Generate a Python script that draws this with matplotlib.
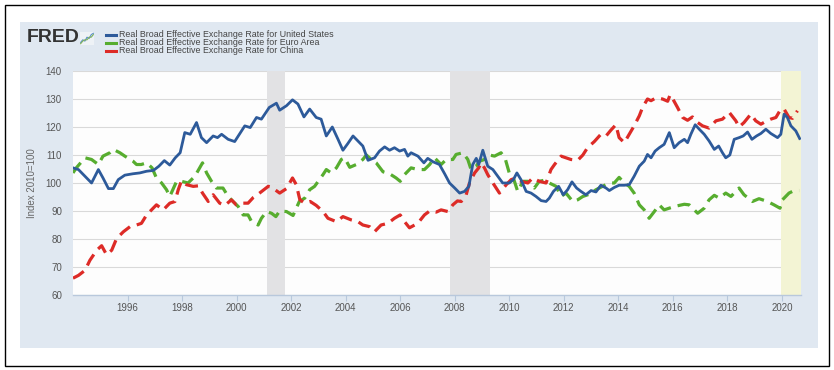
import matplotlib
matplotlib.use("Agg")
import matplotlib.pyplot as plt
from matplotlib.patches import Rectangle
import numpy as np

# ---------------- data (decimal years, index 2010=100) ----------------
us_t = [1994.0, 1994.2, 1994.44, 1994.68, 1994.93, 1995.1, 1995.3, 1995.48, 1995.66, 1995.9,
        1996.2, 1996.45, 1996.7, 1996.95, 1997.15, 1997.35, 1997.55, 1997.75, 1997.93, 1998.1,
        1998.3, 1998.53, 1998.71, 1998.9, 1999.14, 1999.3, 1999.45, 1999.69, 1999.93, 2000.1,
        2000.3, 2000.5, 2000.73, 2000.91, 2001.2, 2001.46, 2001.58, 2001.83, 2002.05, 2002.25,
        2002.47, 2002.68, 2002.92, 2003.1, 2003.29, 2003.51, 2003.72, 2003.9, 2004.08, 2004.27,
        2004.45, 2004.63, 2004.82, 2005.06, 2005.24, 2005.43, 2005.61, 2005.79, 2005.98, 2006.16,
        2006.28, 2006.4, 2006.65, 2006.87, 2007.01, 2007.2, 2007.44, 2007.63, 2007.81, 2008.0,
        2008.18, 2008.36, 2008.52, 2008.66, 2008.79, 2008.88, 2009.03, 2009.21, 2009.4, 2009.58,
        2009.76, 2010.0, 2010.15, 2010.28, 2010.43, 2010.62, 2010.8, 2010.98, 2011.17, 2011.35,
        2011.47, 2011.62, 2011.81, 2011.98, 2012.14, 2012.3, 2012.47, 2012.63, 2012.81, 2013.0,
        2013.18, 2013.36, 2013.55, 2013.67, 2013.85, 2014.03, 2014.22, 2014.4, 2014.58, 2014.77,
        2014.95, 2015.07, 2015.2, 2015.35, 2015.5, 2015.68, 2015.87, 2016.05, 2016.23, 2016.42,
        2016.54, 2016.66, 2016.82, 2016.97, 2017.15, 2017.33, 2017.52, 2017.68, 2017.82, 2017.94,
        2018.09, 2018.25, 2018.43, 2018.58, 2018.74, 2018.9, 2019.07, 2019.23, 2019.41, 2019.59,
        2019.84, 2019.96, 2020.08, 2020.2, 2020.33, 2020.51, 2020.65]
us_v = [105.4, 104.8, 102.4, 100.0, 104.8, 101.8, 98.0, 98.0, 101.2, 102.8,
        103.3, 103.6, 104.2, 104.5, 106.0, 108.0, 106.4, 109.0, 110.8, 118.0,
        117.4, 121.6, 116.2, 114.4, 116.8, 116.2, 117.4, 115.6, 114.8, 117.4,
        120.4, 119.8, 123.4, 122.8, 127.0, 128.5, 126.0, 127.6, 129.7, 128.2,
        123.6, 126.4, 123.4, 122.8, 116.8, 120.0, 115.6, 111.7, 114.1, 116.8,
        115.0, 113.2, 108.1, 109.0, 111.4, 112.9, 111.7, 112.6, 111.4, 112.0,
        109.6, 110.8, 109.6, 107.2, 108.8, 107.6, 106.6, 103.3, 100.0, 98.2,
        96.4, 97.0, 98.8, 106.6, 108.8, 106.6, 111.7, 106.0, 104.8, 102.4,
        100.0, 100.0, 101.2, 103.6, 101.2, 97.0, 96.4, 95.2, 93.7, 93.4,
        94.6, 97.0, 98.8, 95.8, 97.6, 100.4, 98.2, 97.0, 95.8, 97.3,
        96.8, 99.2, 98.2, 97.3, 98.4, 99.2, 99.2, 99.4, 102.4, 106.0,
        107.8, 110.2, 109.0, 111.4, 112.6, 113.8, 118.0, 112.6, 114.4, 115.6,
        114.4, 117.4, 120.8, 119.2, 117.4, 115.0, 112.0, 113.2, 110.8, 109.0,
        110.0, 115.6, 116.2, 116.8, 118.2, 115.6, 116.8, 117.7, 119.2, 117.7,
        116.2, 117.4, 124.6, 123.4, 120.4, 118.6, 115.9]

eu_t = [1994.0, 1994.12, 1994.44, 1994.68, 1994.93, 1995.1, 1995.35, 1995.48, 1995.72, 1995.9,
        1996.2, 1996.33, 1996.5, 1996.7, 1996.9, 1997.06, 1997.25, 1997.43, 1997.55, 1997.8,
        1997.98, 1998.22, 1998.47, 1998.75, 1998.9, 1999.08, 1999.26, 1999.5, 1999.69, 1999.87,
        2000.06, 2000.24, 2000.42, 2000.55, 2000.79, 2000.91, 2001.1, 2001.28, 2001.44, 2001.58,
        2001.83, 2002.07, 2002.3, 2002.5, 2002.68, 2002.86, 2003.17, 2003.29, 2003.47, 2003.66,
        2003.84, 2003.96, 2004.15, 2004.39, 2004.63, 2004.76, 2004.94, 2005.12, 2005.37, 2005.61,
        2005.85, 2006.0, 2006.16, 2006.4, 2006.65, 2006.89, 2007.08, 2007.26, 2007.5, 2007.69,
        2007.93, 2008.05, 2008.3, 2008.48, 2008.6, 2008.79, 2008.91, 2009.09, 2009.27, 2009.46,
        2009.7, 2009.86, 2010.0, 2010.13, 2010.31, 2010.5, 2010.68, 2010.92, 2011.1, 2011.29,
        2011.47, 2011.72, 2011.9, 2012.08, 2012.33, 2012.51, 2012.7, 2012.94, 2013.18, 2013.42,
        2013.67, 2013.85, 2014.03, 2014.22, 2014.4, 2014.58, 2014.77, 2014.95, 2015.13, 2015.32,
        2015.5, 2015.68, 2015.87, 2016.05, 2016.42, 2016.6, 2016.91, 2017.15, 2017.33, 2017.52,
        2017.7, 2017.94, 2018.13, 2018.43, 2018.61, 2018.92, 2019.16, 2019.47, 2019.71, 2019.93,
        2020.02, 2020.26, 2020.45, 2020.63]
eu_v = [103.6, 105.4, 109.0, 108.4, 106.6, 109.6, 110.8, 112.0, 110.8, 109.6,
        107.8, 106.6, 106.6, 107.2, 105.4, 101.8, 100.0, 97.6, 95.2, 100.6,
        100.6, 100.0, 102.4, 107.2, 103.6, 100.6, 98.2, 98.2, 95.2, 93.4,
        91.6, 88.6, 88.6, 86.2, 85.0, 87.4, 89.8, 89.2, 88.0, 90.0,
        89.8, 88.4, 93.4, 94.6, 97.6, 98.8, 103.0, 104.8, 103.6, 105.4,
        108.4, 109.0, 105.6, 106.6, 108.4, 110.0, 108.4, 107.2, 104.0, 103.3,
        101.8, 100.6, 103.0, 105.4, 104.8, 104.8, 106.6, 109.0, 106.6, 108.4,
        108.4, 110.2, 110.8, 108.4, 104.8, 106.0, 107.8, 108.4, 110.0, 109.6,
        110.8, 108.4, 103.6, 102.4, 97.0, 100.6, 100.6, 98.2, 100.6, 101.0,
        100.0, 98.8, 95.2, 96.4, 93.4, 94.0, 95.2, 96.0, 97.6, 98.8,
        100.0, 100.0, 102.0, 100.0, 98.8, 96.4, 92.2, 90.4, 87.4, 89.8,
        92.2, 90.4, 91.0, 91.6, 92.4, 92.2, 89.2, 91.0, 94.0, 95.6,
        94.6, 96.4, 95.2, 98.2, 95.8, 93.4, 94.4, 93.4, 92.2, 91.0,
        94.0, 96.4, 97.3, 97.3]

cn_t = [1994.0, 1994.2, 1994.44, 1994.62, 1994.87, 1995.05, 1995.23, 1995.42, 1995.6, 1995.85,
        1996.09, 1996.33, 1996.51, 1996.7, 1996.88, 1997.06, 1997.31, 1997.55, 1997.74, 1997.86,
        1997.98, 1998.16, 1998.41, 1998.6, 1998.75, 1998.96, 1999.14, 1999.38, 1999.57, 1999.81,
        1999.99, 2000.24, 2000.42, 2000.61, 2000.79, 2001.16, 2001.28, 2001.58, 2001.83, 2002.05,
        2002.19, 2002.32, 2002.5, 2002.7, 2002.92, 2003.17, 2003.35, 2003.66, 2003.9, 2004.21,
        2004.45, 2004.63, 2004.88, 2005.06, 2005.3, 2005.55, 2005.79, 2006.0, 2006.16, 2006.34,
        2006.53, 2006.71, 2006.89, 2007.08, 2007.32, 2007.5, 2007.75, 2007.93, 2008.1, 2008.24,
        2008.42, 2008.54, 2008.73, 2008.88, 2008.97, 2009.09, 2009.21, 2009.4, 2009.64, 2009.89,
        2010.07, 2010.25, 2010.43, 2010.68, 2010.86, 2011.1, 2011.35, 2011.53, 2011.66, 2011.9,
        2012.08, 2012.26, 2012.51, 2012.7, 2012.87, 2013.12, 2013.36, 2013.55, 2013.73, 2013.91,
        2014.03, 2014.22, 2014.4, 2014.58, 2014.77, 2014.89, 2015.07, 2015.2, 2015.38, 2015.62,
        2015.81, 2015.9, 2016.0, 2016.17, 2016.36, 2016.54, 2016.72, 2016.91, 2017.09, 2017.33,
        2017.58, 2017.82, 2018.07, 2018.31, 2018.43, 2018.61, 2018.86, 2019.04, 2019.23, 2019.41,
        2019.59, 2019.78, 2019.96, 2020.08, 2020.26, 2020.39, 2020.57]
cn_v = [66.0, 67.0, 68.8, 72.4, 76.0, 77.6, 74.4, 76.0, 80.2, 82.6,
        84.4, 85.0, 85.6, 88.6, 90.4, 92.2, 90.4, 92.8, 93.4, 97.6,
        100.8, 99.4, 98.8, 99.0, 96.4, 93.4, 95.8, 92.8, 92.0, 94.0,
        92.2, 92.8, 92.8, 94.8, 96.0, 98.8, 98.5, 96.4, 98.0, 101.8,
        99.4, 94.0, 92.8, 93.4, 92.0, 89.8, 87.4, 86.2, 88.0, 86.8,
        86.2, 85.0, 84.4, 82.6, 85.0, 85.6, 87.4, 88.6, 86.2, 84.0,
        85.0, 86.4, 88.6, 90.0, 89.6, 90.4, 89.8, 92.2, 93.6, 93.4,
        95.8, 100.0, 103.6, 105.4, 107.2, 105.4, 103.0, 100.0, 96.4, 99.4,
        101.2, 101.8, 100.6, 100.0, 101.8, 100.6, 100.0, 104.8, 106.6, 109.6,
        109.0, 108.4, 108.1, 110.0, 112.6, 114.8, 117.4, 116.8, 118.9, 120.8,
        116.2, 114.4, 117.4, 120.4, 124.0, 127.0, 130.0, 129.4, 130.4, 130.0,
        129.2, 131.5, 130.0, 127.0, 123.4, 122.4, 123.6, 121.6, 120.4, 119.6,
        122.2, 122.8, 125.2, 122.2, 120.0, 121.6, 124.6, 122.2, 121.0, 122.0,
        122.8, 123.4, 126.4, 126.4, 123.4, 123.1, 125.8]

rec_start = [2001.12, 2007.82, 2019.95]
rec_end = [2001.77, 2009.30, 2020.70]

series_names = ["Real Broad Effective Exchange Rate for United States",
                "Real Broad Effective Exchange Rate for Euro Area",
                "Real Broad Effective Exchange Rate for China"]
x_ticks = list(range(1996, 2021, 2))
y_ticks = list(range(60, 141, 10))
y_label = "Index 2010=100"

# ---------------- styling ----------------
W, H = 834, 370
fig = plt.figure(figsize=(W / 100, H / 100), dpi=100)
fig.patch.set_facecolor("white")
plt.rcParams['font.family'] = ['Liberation Sans Narrow', 'Liberation Sans', 'DejaVu Sans']

def fx(px):
    return px / W

def fy(py):
    return 1 - py / H

# outer black frame
fig.patches.append(Rectangle((fx(5), fy(366)), fx(824), 361 / H, transform=fig.transFigure,
                             fill=False, edgecolor="black", linewidth=1.0, zorder=-5))
# light blue panel
fig.patches.append(Rectangle((fx(20), fy(348)), fx(798), 326 / H, transform=fig.transFigure,
                             facecolor="#e0e8f1", edgecolor="none", zorder=-5))

ax = fig.add_axes([fx(73), fy(295), fx(801 - 73), (295 - 71) / H])
ax.set_facecolor("#fdfdfd")

blue, green, red = "#2d5a9a", "#57ad2f", "#dd2b27"

for s, e in zip(rec_start, rec_end):
    col = "#f3f4d4" if s > 2019 else "#e2e2e4"
    ax.axvspan(s, e, color=col, lw=0, zorder=1)

ax.plot(us_t, us_v, color=blue, lw=2.0, zorder=4, solid_joinstyle="round")
ax.plot(eu_t, eu_v, color=green, lw=2.3, dashes=(4.0, 2.2), zorder=3)
ax.plot(cn_t, cn_v, color=red, lw=2.3, dashes=(4.0, 2.2), zorder=3)

ax.set_xlim(1994.0, 2020.70)
ax.set_ylim(60, 140)
ax.set_yticks(y_ticks)
ax.set_xticks(x_ticks)
ax.grid(axis="y", color="#d9d9d9", lw=0.8, zorder=0)
ax.set_axisbelow(True)
for sp in ["top", "right", "left"]:
    ax.spines[sp].set_visible(False)
ax.spines["bottom"].set_color("#b8c8dc")
ax.spines["bottom"].set_linewidth(1.0)
ax.tick_params(axis="y", length=0, pad=8, labelsize=7, labelcolor="#555555")
ax.tick_params(axis="x", length=4, width=0.8, color="#b8c8dc", pad=2, labelsize=7,
               labelcolor="#555555")
ax.set_ylabel(y_label, fontsize=7, color="#666666")
ax.yaxis.set_label_coords(fx(37 - 73) / fx(801 - 73), 0.5)

# FRED logo
fig.text(fx(27), fy(37.5), "FRED", fontsize=14, fontweight="bold", color="#333333",
         va="center", ha="left", family=["Liberation Sans", "DejaVu Sans"])
icon = fig.add_axes([fx(80), fy(45), fx(14), 13 / H])
icon.set_facecolor("#eef2f6")
icon.set_xticks([]); icon.set_yticks([])
for sp in icon.spines.values():
    sp.set_visible(False)
icon_a = [1, 3, 2, 5, 4, 7, 8]
icon_b = [0, 2, 3, 3, 5, 5, 7]
icon.plot(icon_a, color="#5b8fc7", lw=0.8)
icon.plot(icon_b, color="#7fb25a", lw=0.8)
icon.set_ylim(-1, 9)

# legend
leg_rows = [34.5, 42.5, 50.5]
for name, col, yy in zip(series_names, [blue, green, red], leg_rows):
    fig.lines.append(plt.Line2D([fx(106), fx(116)], [fy(yy), fy(yy)], transform=fig.transFigure,
                                color=col, lw=2.2))
    fig.text(fx(119), fy(yy), name, fontsize=6.4, color="#444444", va="center", ha="left")

fig.savefig("out.png", dpi=100)
